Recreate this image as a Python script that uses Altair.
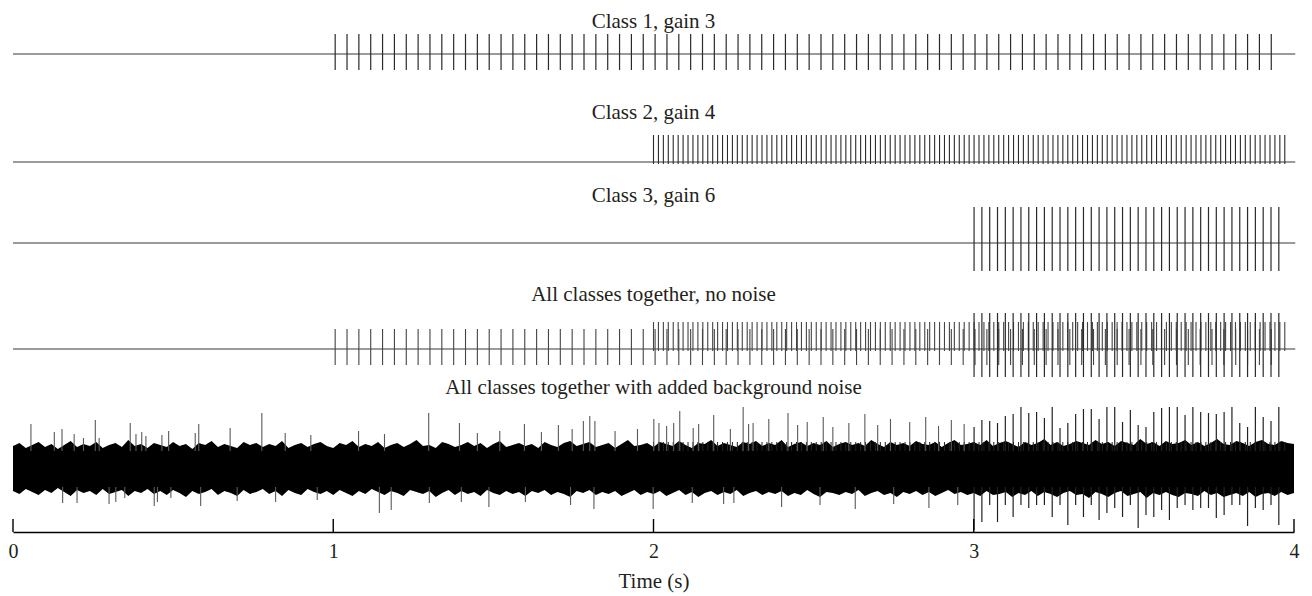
import altair as alt
import pandas as pd

# ---------------- data ----------------
TIME_TICKS = [0, 1, 2, 3, 4]
PANEL_TITLES = [
    "Class 1, gain 3",
    "Class 2, gain 4",
    "Class 3, gain 6",
    "All classes together, no noise",
    "All classes together with added background noise",
]

# spike times (s)
CLASS1_TIMES = [
    1.006, 1.043, 1.080, 1.117, 1.154, 1.191, 1.228, 1.265, 1.302, 1.339,
    1.376, 1.413, 1.450, 1.487, 1.524, 1.561, 1.598, 1.635, 1.672, 1.709,
    1.746, 1.783, 1.820, 1.857, 1.894, 1.931, 1.968, 2.005, 2.042, 2.079,
    2.116, 2.153, 2.190, 2.227, 2.264, 2.301, 2.338, 2.375, 2.412, 2.449,
    2.486, 2.523, 2.560, 2.597, 2.634, 2.671, 2.708, 2.745, 2.782, 2.819,
    2.856, 2.893, 2.930, 2.967, 3.004, 3.041, 3.078, 3.115, 3.152, 3.189,
    3.226, 3.263, 3.300, 3.337, 3.374, 3.411, 3.448, 3.485, 3.522, 3.559,
    3.596, 3.633, 3.670, 3.707, 3.744, 3.781, 3.818, 3.855, 3.892, 3.929,
]
CLASS2_TIMES = [
    2.0000, 2.0154, 2.0308, 2.0462, 2.0616, 2.0770, 2.0924, 2.1078, 2.1232, 2.1386,
    2.1540, 2.1694, 2.1848, 2.2002, 2.2156, 2.2310, 2.2464, 2.2618, 2.2772, 2.2926,
    2.3080, 2.3234, 2.3388, 2.3542, 2.3696, 2.3850, 2.4004, 2.4158, 2.4312, 2.4466,
    2.4620, 2.4774, 2.4928, 2.5082, 2.5236, 2.5390, 2.5544, 2.5698, 2.5852, 2.6006,
    2.6160, 2.6314, 2.6468, 2.6622, 2.6776, 2.6930, 2.7084, 2.7238, 2.7392, 2.7546,
    2.7700, 2.7854, 2.8008, 2.8162, 2.8316, 2.8470, 2.8624, 2.8778, 2.8932, 2.9086,
    2.9240, 2.9394, 2.9548, 2.9702, 2.9856, 3.0010, 3.0164, 3.0318, 3.0472, 3.0626,
    3.0780, 3.0934, 3.1088, 3.1242, 3.1396, 3.1550, 3.1704, 3.1858, 3.2012, 3.2166,
    3.2320, 3.2474, 3.2628, 3.2782, 3.2936, 3.3090, 3.3244, 3.3398, 3.3552, 3.3706,
    3.3860, 3.4014, 3.4168, 3.4322, 3.4476, 3.4630, 3.4784, 3.4938, 3.5092, 3.5246,
    3.5400, 3.5554, 3.5708, 3.5862, 3.6016, 3.6170, 3.6324, 3.6478, 3.6632, 3.6786,
    3.6940, 3.7094, 3.7248, 3.7402, 3.7556, 3.7710, 3.7864, 3.8018, 3.8172, 3.8326,
    3.8480, 3.8634, 3.8788, 3.8942, 3.9096, 3.9250, 3.9404, 3.9558, 3.9712,
]
CLASS3_TIMES = [
    3.0010, 3.0254, 3.0498, 3.0742, 3.0986, 3.1230, 3.1474, 3.1718, 3.1962, 3.2206,
    3.2450, 3.2694, 3.2938, 3.3182, 3.3426, 3.3670, 3.3914, 3.4158, 3.4402, 3.4646,
    3.4890, 3.5134, 3.5378, 3.5622, 3.5866, 3.6110, 3.6354, 3.6598, 3.6842, 3.7086,
    3.7330, 3.7574, 3.7818, 3.8062, 3.8306, 3.8550, 3.8794, 3.9038, 3.9282, 3.9526,
]
# spike peak / trough amplitudes of each class (arbitrary units)
CLASS_PEAK = [20, 27, 36]
CLASS_TROUGH = [-16, -2, -28]

# class-3 spikes as they appear in the noisy trace
NOISY3_TOP = [42, 49, 48, 46, 53, 55, 62, 56, 57, 51,
              62, 41, 46, 55, 60, 60, 50, 62, 62, 47,
              59, 44, 42, 57, 61, 62, 62, 54, 62, 57,
              56, 55, 57, 62, 46, 42, 62, 52, 48, 62]
NOISY3_BOTTOM = [-61, -53, -36, -53, -36, -48, -36, -39, -36, -36,
                 -48, -36, -56, -36, -48, -36, -51, -44, -39, -48,
                 -36, -59, -46, -48, -41, -51, -39, -36, -41, -39,
                 -39, -49, -46, -36, -36, -57, -39, -41, -36, -56]

# other noise excursions above / below the background band
NOISE_UP_T = [0.056, 0.129, 0.153, 0.191, 0.220, 0.257, 0.269, 0.366, 0.384, 0.402,
              0.415, 0.465, 0.486, 0.569, 0.580, 0.678, 0.777, 0.850, 0.930, 1.079,
              1.160, 1.298, 1.394, 1.450, 1.520, 1.597, 1.650, 1.703, 1.746, 1.781,
              1.801, 1.817, 1.880, 1.950, 2.001, 2.017, 2.041, 2.063, 2.082, 2.124,
              2.141, 2.188, 2.240, 2.280, 2.297, 2.311, 2.360, 2.420, 2.450, 2.480,
              2.530, 2.560, 2.610, 2.660, 2.700, 2.740, 2.800, 2.850, 2.890, 2.930,
              2.970]
NOISE_UP_V = [45, 37, 40, 35, 31, 49, 31, 46, 35, 37,
              33, 34, 38, 36, 45, 41, 56, 36, 34, 38,
              35, 56, 46, 36, 38, 45, 37, 44, 40, 48,
              53, 48, 38, 40, 50, 46, 43, 46, 58, 41,
              45, 54, 40, 62, 45, 46, 50, 56, 44, 47,
              52, 42, 46, 55, 44, 50, 47, 52, 43, 49,
              45]
NOISE_DOWN_T = [0.155, 0.200, 0.300, 0.321, 0.349, 0.441, 0.451, 0.493, 0.586, 0.700,
                0.820, 0.950, 1.144, 1.181, 1.300, 1.400, 1.486, 1.600, 1.741, 1.814,
                1.999, 2.121, 2.219, 2.251, 2.400, 2.520, 2.630, 2.750, 2.860, 2.950]
NOISE_DOWN_V = [-34, -34, -35, -33, -29, -37, -33, -29, -37, -32,
                -33, -31, -44, -41, -34, -33, -38, -33, -36, -40,
                -40, -34, -35, -34, -38, -36, -40, -35, -39, -36]

# envelope of the dense background-noise band (every 0.02 s)
ENV_T = [
    0.00, 0.02, 0.04, 0.06, 0.08, 0.10, 0.12, 0.14, 0.16, 0.18,
    0.20, 0.22, 0.24, 0.26, 0.28, 0.30, 0.32, 0.34, 0.36, 0.38,
    0.40, 0.42, 0.44, 0.46, 0.48, 0.50, 0.52, 0.54, 0.56, 0.58,
    0.60, 0.62, 0.64, 0.66, 0.68, 0.70, 0.72, 0.74, 0.76, 0.78,
    0.80, 0.82, 0.84, 0.86, 0.88, 0.90, 0.92, 0.94, 0.96, 0.98,
    1.00, 1.02, 1.04, 1.06, 1.08, 1.10, 1.12, 1.14, 1.16, 1.18,
    1.20, 1.22, 1.24, 1.26, 1.28, 1.30, 1.32, 1.34, 1.36, 1.38,
    1.40, 1.42, 1.44, 1.46, 1.48, 1.50, 1.52, 1.54, 1.56, 1.58,
    1.60, 1.62, 1.64, 1.66, 1.68, 1.70, 1.72, 1.74, 1.76, 1.78,
    1.80, 1.82, 1.84, 1.86, 1.88, 1.90, 1.92, 1.94, 1.96, 1.98,
    2.00, 2.02, 2.04, 2.06, 2.08, 2.10, 2.12, 2.14, 2.16, 2.18,
    2.20, 2.22, 2.24, 2.26, 2.28, 2.30, 2.32, 2.34, 2.36, 2.38,
    2.40, 2.42, 2.44, 2.46, 2.48, 2.50, 2.52, 2.54, 2.56, 2.58,
    2.60, 2.62, 2.64, 2.66, 2.68, 2.70, 2.72, 2.74, 2.76, 2.78,
    2.80, 2.82, 2.84, 2.86, 2.88, 2.90, 2.92, 2.94, 2.96, 2.98,
    3.00, 3.02, 3.04, 3.06, 3.08, 3.10, 3.12, 3.14, 3.16, 3.18,
    3.20, 3.22, 3.24, 3.26, 3.28, 3.30, 3.32, 3.34, 3.36, 3.38,
    3.40, 3.42, 3.44, 3.46, 3.48, 3.50, 3.52, 3.54, 3.56, 3.58,
    3.60, 3.62, 3.64, 3.66, 3.68, 3.70, 3.72, 3.74, 3.76, 3.78,
    3.80, 3.82, 3.84, 3.86, 3.88, 3.90, 3.92, 3.94, 3.96, 3.98,
    4.00,
]
ENV_UPPER = [
    23, 26, 21, 24, 27, 22, 25, 20, 24, 28,
    22, 25, 23, 27, 21, 24, 26, 22, 29, 23,
    25, 21, 26, 24, 22, 27, 23, 25, 20, 26,
    24, 28, 22, 25, 23, 21, 27, 24, 26, 22,
    25, 23, 28, 21, 24, 26, 22, 25, 27, 23,
    21, 26, 24, 28, 22, 25, 23, 27, 21, 24,
    26, 22, 25, 29, 23, 24, 21, 27, 25, 22,
    24, 27, 23, 26, 21, 25, 28, 22, 24, 26,
    23, 25, 21, 27, 24, 22, 26, 28, 23, 25,
    27, 22, 24, 26, 21, 25, 29, 23, 24, 26,
    22, 27, 25, 23, 28, 24, 21, 26, 25, 29,
    23, 26, 24, 22, 27, 25, 28, 23, 26, 24,
    29, 22, 25, 27, 23, 26, 24, 28, 22, 25,
    27, 24, 26, 23, 29, 25, 22, 27, 24, 26,
    23, 28, 25, 24, 27, 22, 26, 29, 24, 25,
    27, 24, 29, 23, 26, 28, 25, 22, 27, 24,
    26, 30, 24, 27, 23, 25, 28, 26, 24, 29,
    25, 27, 23, 28, 26, 24, 30, 25, 27, 23,
    28, 25, 26, 29, 24, 27, 23, 26, 30, 25,
    24, 28, 26, 23, 27, 29, 25, 24, 28, 26,
    25,
]
ENV_LOWER = [
    -22, -25, -20, -23, -26, -21, -24, -19, -23, -27,
    -21, -24, -22, -26, -20, -25, -23, -21, -27, -22,
    -24, -20, -25, -22, -26, -21, -24, -28, -22, -25,
    -23, -20, -26, -22, -24, -27, -21, -25, -23, -20,
    -25, -22, -27, -21, -24, -26, -20, -23, -25, -22,
    -26, -21, -24, -27, -22, -25, -20, -23, -26, -22,
    -24, -27, -21, -23, -25, -22, -28, -24, -21, -26,
    -22, -25, -23, -27, -21, -24, -26, -22, -25, -23,
    -27, -22, -24, -21, -26, -23, -25, -28, -22, -24,
    -21, -26, -23, -25, -22, -27, -24, -21, -26, -23,
    -25, -22, -27, -24, -21, -26, -23, -28, -24, -22,
    -26, -23, -25, -21, -27, -24, -22, -26, -23, -25,
    -22, -27, -24, -26, -21, -25, -28, -23, -24, -26,
    -23, -25, -21, -27, -24, -22, -26, -24, -28, -23,
    -25, -22, -26, -23, -27, -24, -21, -25, -23, -26,
    -24, -27, -22, -26, -25, -23, -28, -24, -26, -22,
    -27, -23, -25, -28, -24, -22, -26, -25, -29, -23,
    -25, -28, -24, -22, -27, -25, -23, -29, -24, -26,
    -23, -26, -28, -24, -25, -27, -22, -26, -24, -28,
    -26, -24, -27, -23, -28, -25, -24, -27, -23, -26,
    -24,
]

# ---------------- styling / layout ----------------
FONT = "Liberation Serif"
TEXT_COLOR = "#231f20"
W = 1281
XSCALE = alt.Scale(domain=[0, 4], nice=False, zero=False)
BAND_INNER = 18  # excursion strokes start just inside the dense band


def spikes_df(times, lo, hi):
    if not isinstance(lo, list):
        lo = [lo] * len(times)
    if not isinstance(hi, list):
        hi = [hi] * len(times)
    return pd.DataFrame({"t": times, "lo": lo, "hi": hi})


def panel(title, title_y, h, ymax, spike_frames, noise=False):
    ymin = ymax - h
    ysc = alt.Scale(domain=[ymin, ymax], nice=False, zero=False)
    if noise:
        xaxis = alt.Axis(values=TIME_TICKS, format="d", ticks=False, tickSize=0,
                         grid=False, domainColor="#000", domainWidth=1.4,
                         labelFont=FONT, labelFontSize=20, labelColor=TEXT_COLOR,
                         labelPadding=9, labelFlush=False, title="Time (s)",
                         titleFont=FONT, titleFontSize=21, titleFontWeight="normal",
                         titleColor=TEXT_COLOR, titlePadding=9)
    else:
        xaxis = None

    def X(field):
        return alt.X(field, type="quantitative", scale=XSCALE, axis=xaxis)

    layers = []
    if noise:
        env = pd.DataFrame({"t": ENV_T, "lo": ENV_LOWER, "hi": ENV_UPPER})
        layers.append(
            alt.Chart(env).mark_area(color="#000", opacity=1, strokeWidth=0).encode(
                x=X("t"),
                y=alt.Y("lo:Q", scale=ysc, axis=None),
                y2="hi:Q",
            )
        )
    else:
        base = pd.DataFrame({"t": [0.0], "t2": [4.004], "v": [0.0]})
        layers.append(
            alt.Chart(base).mark_rule(color="#7a7a7a", strokeWidth=1.6).encode(
                x=X("t"), x2="t2:Q", y=alt.Y("v:Q", scale=ysc, axis=None)
            )
        )
    for df, color, width in spike_frames:
        layers.append(
            alt.Chart(df).mark_rule(color=color, strokeWidth=width).encode(
                x=X("t"),
                y=alt.Y("lo:Q", scale=ysc, axis=None),
                y2="hi:Q",
            )
        )
    if noise:
        ticks = pd.DataFrame({"t": TIME_TICKS, "lo": [ymin] * len(TIME_TICKS),
                              "hi": [ymin + 13] * len(TIME_TICKS)})
        layers.append(
            alt.Chart(ticks).mark_rule(color="#000", strokeWidth=1.4).encode(
                x=X("t"), y=alt.Y("lo:Q", scale=ysc, axis=None), y2="hi:Q"
            )
        )
    label = pd.DataFrame({"t": [2.0], "label": [title]})
    layers.append(
        alt.Chart(label).mark_text(font=FONT, fontSize=21, baseline="top", align="center",
                                   color=TEXT_COLOR).encode(
            x=X("t"), y=alt.value(title_y), text="label:N"
        )
    )
    return alt.layer(*layers).properties(width=W, height=h)


c1 = spikes_df(CLASS1_TIMES, CLASS_TROUGH[0], CLASS_PEAK[0])
c2 = spikes_df(CLASS2_TIMES, CLASS_TROUGH[1], CLASS_PEAK[1])
c3 = spikes_df(CLASS3_TIMES, CLASS_TROUGH[2], CLASS_PEAK[2])

noise_up = pd.DataFrame({"t": NOISE_UP_T, "lo": [BAND_INNER] * len(NOISE_UP_T), "hi": NOISE_UP_V})
noise_down = pd.DataFrame({"t": NOISE_DOWN_T, "lo": NOISE_DOWN_V,
                           "hi": [-BAND_INNER] * len(NOISE_DOWN_T)})
noisy3_up = spikes_df(CLASS3_TIMES, BAND_INNER, NOISY3_TOP)
noisy3_down = spikes_df(CLASS3_TIMES, NOISY3_BOTTOM, -BAND_INNER)
c2_noise = spikes_df(CLASS2_TIMES, BAND_INNER, CLASS_PEAK[1])

SPIKE = "#2a2a2a"
p1 = panel(PANEL_TITLES[0], 0, 89, 43, [(c1, SPIKE, 1.2)])
p2 = panel(PANEL_TITLES[1], 2, 80, 62, [(c2, SPIKE, 1.1)])
p3 = panel(PANEL_TITLES[2], 5, 100, 63, [(c3, SPIKE, 1.2)])
p4 = panel(PANEL_TITLES[3], 4, 94, 69, [(c1, "#444", 1.1), (c2, "#444", 1.1), (c3, SPIKE, 1.2)])
p5 = panel(PANEL_TITLES[4], 3, 158, 95,
           [(c2_noise, "#222", 1.0), (noise_up, "#5a5a5a", 1.1),
            (noise_down, "#5a5a5a", 1.1), (noisy3_up, "#222", 1.2),
            (noisy3_down, "#222", 1.2)], noise=True)

chart = (
    alt.vconcat(p1, p2, p3, p4, p5, spacing=0, bounds="flush")
    .properties(padding={"left": 0, "top": 3, "right": 5, "bottom": 5})
    .configure_view(stroke=None)
)

chart.save("out.html", embed_options={"renderer": "svg", "actions": False})
